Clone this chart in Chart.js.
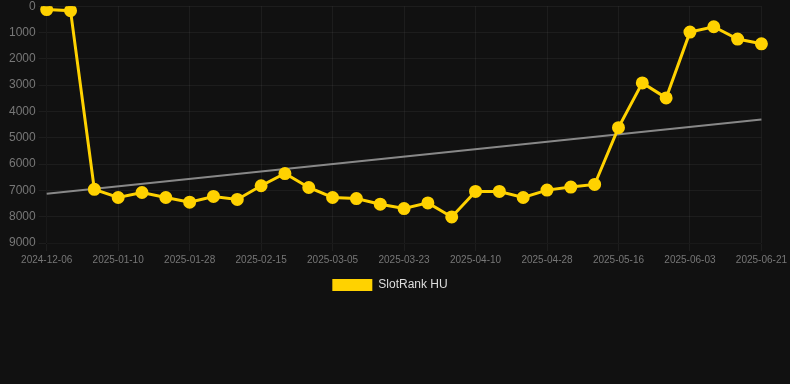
<!DOCTYPE html>
<html>
<head>
    <title>SlotRank HU</title>
    <script src="https://cdn.jsdelivr.net/npm/chart.js"></script>
    <style>
        html, body { margin: 0; padding: 0; background: #111111; overflow: hidden; }
        #wrap { width: 790px; height: 305px; margin-top: -4px; }
    </style>
</head>
<body>
    <div id="wrap">
        <canvas id="rankChart"></canvas>
    </div>

    <script>
    // dates (every 3rd one shown on the axis)
    const dates = [
        '2024-12-06', '2024-12-12', '2025-01-04', '2025-01-10', '2025-01-16', '2025-01-22',
        '2025-01-28', '2025-02-03', '2025-02-09', '2025-02-15', '2025-02-21', '2025-02-27',
        '2025-03-05', '2025-03-11', '2025-03-17', '2025-03-23', '2025-03-29', '2025-04-04',
        '2025-04-10', '2025-04-16', '2025-04-22', '2025-04-28', '2025-05-04', '2025-05-10',
        '2025-05-16', '2025-05-22', '2025-05-28', '2025-06-03', '2025-06-09', '2025-06-15',
        '2025-06-21'
    ];

    // rank values
    const rankHU = [
        130, 170, 6960, 7270, 7080, 7270, 7450, 7230, 7345, 6825, 6360,
        6890, 7270, 7310, 7525, 7690, 7475, 8010, 7040, 7040, 7270, 6990,
        6875, 6775, 4615, 2915, 3485, 985, 780, 1250, 1430
    ];

    // trend line: only the two ends, gap spanned
    const trendStart = 7130;
    const trendEnd = 4310;
    const trend = dates.map((d, i) => i === 0 ? trendStart : (i === dates.length - 1 ? trendEnd : null));

    const yTicks = [0, 1000, 2000, 3000, 4000, 5000, 6000, 7000, 8000, 9000];

    new Chart(document.getElementById('rankChart'), {
        type: 'line',
        data: {
            labels: dates,
            datasets: [{
                label: 'SlotRank HU',
                data: rankHU,
                borderColor: '#FFD200',
                backgroundColor: '#FFD200',
                borderWidth: 3,
                pointRadius: 5,
                pointHoverRadius: 6,
                tension: 0
            }, {
                label: 'trend',
                data: trend,
                borderColor: 'rgba(150,150,150,0.9)',
                borderWidth: 2,
                pointRadius: 0,
                spanGaps: true,
                tension: 0
            }]
        },
        options: {
            responsive: true,
            maintainAspectRatio: false,
            animation: false,
            layout: { padding: { left: 6, right: 16, top: 0, bottom: 0 } },
            plugins: {
                legend: {
                    position: 'bottom',
                    labels: {
                        color: '#dddddd',
                        boxWidth: 40,
                        boxHeight: 12,
                        font: { size: 12 },
                        filter: item => {
                            item.lineWidth = 0;
                            return item.text !== 'trend';
                        }
                    }
                },
                tooltip: { enabled: false }
            },
            scales: {
                x: {
                    grid: { color: 'rgba(255,255,255,0.05)' },
                    ticks: {
                        color: '#777777',
                        font: { size: 10 },
                        autoSkip: false,
                        maxRotation: 0,
                        callback: function(val, i) { return i % 3 === 0 ? dates[i] : null; }
                    }
                },
                y: {
                    reverse: true,
                    min: yTicks[0],
                    max: yTicks[yTicks.length - 1],
                    grid: { color: 'rgba(255,255,255,0.05)' },
                    afterBuildTicks: axis => { axis.ticks = yTicks.map(v => ({ value: v })); },
                    ticks: {
                        color: '#777777',
                        font: { size: 12 },
                        callback: v => String(v)
                    }
                }
            }
        }
    });
    </script>
</body>
</html>
